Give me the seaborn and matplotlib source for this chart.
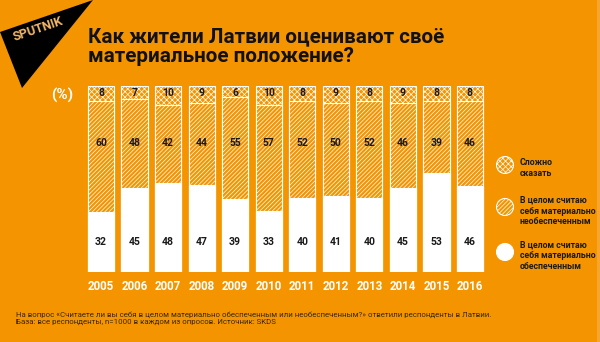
import numpy as np
import pandas as pd
import matplotlib
matplotlib.use("Agg")
import matplotlib.pyplot as plt
import seaborn as sns
from matplotlib.patches import Polygon, Ellipse, Rectangle

# ---- data ----
years = ["2005", "2006", "2007", "2008", "2009", "2010", "2011", "2012", "2013", "2014", "2015", "2016"]
provided = [32, 45, 48, 47, 39, 33, 40, 41, 40, 45, 53, 46]      # обеспеченным
not_provided = [60, 48, 42, 44, 55, 57, 52, 50, 52, 46, 39, 46]  # необеспеченным
hard_to_say = [8, 7, 10, 9, 6, 10, 8, 9, 8, 9, 8, 8]             # сложно сказать
legend_labels = ["Сложно\nсказать",
                 "В целом считаю\nсебя материально\nнеобеспеченным",
                 "В целом считаю\nсебя материально\nобеспеченным"]
title_lines = ["Как жители Латвии оценивают своё", "материальное положение?"]
footnote = ("На вопрос «Считаете ли вы себя в целом материально обеспеченным или необеспеченным?» ответили респонденты в Латвии.\n"
            "База: все респонденты, n=1000 в каждом из опросов. Источник: SKDS")

ORANGE = "#F49500"
W, H = 600, 342

sns.set_theme(style="white")
plt.rcParams["hatch.linewidth"] = 0.5
FONT = ["Roboto", "DejaVu Sans"]

df = pd.DataFrame({"year": years,
                   "low": np.array(provided),
                   "mid": np.array(provided) + np.array(not_provided),
                   "top": np.array(provided) + np.array(not_provided) + np.array(hard_to_say)})

fig = plt.figure(figsize=(6, 3.42), dpi=100)
fig.patch.set_facecolor(ORANGE)
renderer = fig.canvas.get_renderer()


def fx(x):
    return x / W


def fy(y):
    return 1 - y / H


def fit(t, width_px):
    """scale font size so the text's rendered width equals width_px"""
    bb = t.get_window_extent(renderer=renderer)
    if bb.width > 0:
        t.set_fontsize(t.get_fontsize() * width_px / bb.width)
    return t.get_fontsize()


ax = fig.add_axes([fx(84.25), fy(272), 402.5 / W, 186 / H])
ax.set_facecolor(ORANGE)

layers = [("top", ORANGE, "xxxxxx"), ("mid", ORANGE, "////////"), ("low", "white", None)]
for col, fc, hatch in layers:
    n_before = len(ax.patches)
    sns.barplot(data=df, x="year", y=col, color=fc, saturation=1, width=0.78,
                edgecolor="white", linewidth=0.8, ax=ax, errorbar=None)
    if hatch:
        for p in ax.patches[n_before:]:
            p.set_hatch(hatch)

ax.set_xlim(-0.5, len(years) - 0.5)
ax.set_ylim(0, 100)
ax.axis("off")

for i in range(len(years)):
    for yv, val in ((96, hard_to_say[i]), (69.5, not_provided[i]), (16, provided[i])):
        ax.text(i, yv, str(val), ha="center", va="center", fontsize=7.5,
                fontweight="bold", color="#1a1a1a", family=FONT)
    ax.text(i, -8, years[i], ha="center", va="center", fontsize=8.3,
            fontweight="bold", color="white", clip_on=False, family=FONT)

# Logo
tri = Polygon([(fx(0), fy(32)), (fx(93), fy(0)), (fx(22), fy(88))], closed=True,
              transform=fig.transFigure, facecolor="black", edgecolor="none")
fig.add_artist(tri)
fig.text(fx(38), fy(29), "SPUTNIK", rotation=19, ha="center", va="center",
         fontsize=9, fontweight="bold", color="#F2B868", family=FONT)

# right edge strip
fig.add_artist(Rectangle((fx(597), 0), fx(3), 1, transform=fig.transFigure,
                         facecolor="#F7A52E", edgecolor="none"))

# Title
t1 = fig.text(fx(88), fy(42), title_lines[0], ha="left", va="baseline", fontsize=14,
              fontweight="bold", color="#111111", family=FONT)
size = fit(t1, 357)
fig.text(fx(88), fy(62), title_lines[1], ha="left", va="baseline", fontsize=size,
         fontweight="bold", color="#111111", family=FONT)

fig.text(fx(62), fy(95), "(%)", ha="center", va="center", fontsize=11,
         fontweight="bold", color="white", family=FONT)

# Legend
leg_y = [165, 207, 252]
leg_hatch = ["xxxxxx", "////////", None]
leg_fc = [ORANGE, ORANGE, "white"]
for yy, lab, hh, fc in zip(leg_y, legend_labels, leg_hatch, leg_fc):
    e = Ellipse((fx(505), fy(yy)), 17 / W, 17 / H, transform=fig.transFigure,
                facecolor=fc, edgecolor="white", linewidth=0.8, hatch=hh)
    fig.add_artist(e)
    ty = yy + 3 if lab.count("\n") == 1 else yy + 4
    fig.text(fx(520), fy(ty), lab, ha="left", va="center", fontsize=6.3,
             fontweight="bold", color="#1a1a1a", linespacing=1.25, family=FONT)

t = fig.text(fx(16), fy(318), footnote, ha="left", va="center", fontsize=6.6,
             color="#3a2800", linespacing=1.3, family=FONT)
fit(t, 471)

fig.savefig("out.png", dpi=100, facecolor=ORANGE)
